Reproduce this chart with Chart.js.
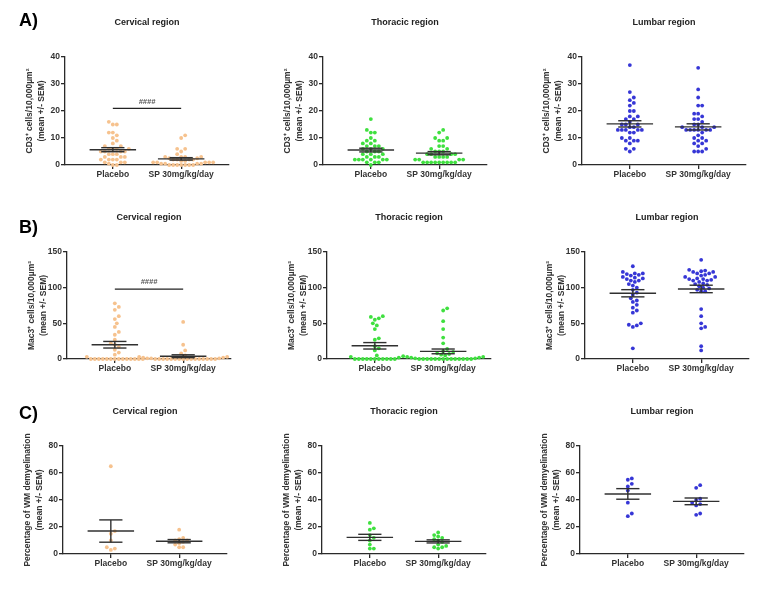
<!DOCTYPE html>
<html><head><meta charset="utf-8">
<script src="https://cdn.jsdelivr.net/npm/chart.js@4.4.1/dist/chart.umd.min.js"></script>
<style>
html,body{margin:0;padding:0;background:#fff}
body{width:777px;height:589px;position:relative;overflow:hidden}
canvas{position:absolute}
</style></head><body>
<script>
// ---------- categories / labels ----------
const groups = ['Placebo', 'SP 30mg/kg/day'];
const regions = ['Cervical region', 'Thoracic region', 'Lumbar region'];
const panelLetters = ['A)', 'B)', 'C)'];
const yTitles = [
  ['CD3⁺ cells/10,000µm²', '(mean +/- SEM)'],
  ['Mac3⁺ cells/10,000µm²', '(mean +/- SEM)'],
  ['Percentage of WM demyelination', '(mean +/- SEM)']
];
const yMaxima = [40, 150, 80];
const yTickSteps = [10, 50, 20];
const regionColors = ['#f6c28e', '#3fe03f', '#3636d6'];

// ---------- data: CD3+ cells ----------
const cd3CervicalPlacebo = [16, 15, 15, 12, 12, 11, 10, 9, 8, 7, 7, 6, 6, 6, 6, 5, 5, 5, 5, 4, 4, 4, 3, 3, 3, 2, 2, 2, 2, 1, 1, 1, 0.5, 0, 0];
const cd3CervicalSP = [11, 10, 6, 6, 5, 4, 3, 3, 3, 3, 2.5, 2.5, 2, 2, 2, 2, 1.5, 1.5, 1, 1, 1, 1, 1, 0.5, 0.5, 0.5, 0.5, 0, 0, 0, 0, 0, 0, 0];
const cd3ThoracicPlacebo = [17, 13, 12, 12, 10, 9, 9, 8, 8, 7, 7, 7, 6, 6, 6, 5, 5, 5, 4, 4, 4, 3, 3, 3, 2, 2, 2, 2, 2, 2, 1, 1, 1, 0];
const cd3ThoracicSP = [13, 12, 10, 10, 9, 9, 7, 7, 6, 6, 5, 5, 5, 4, 4, 4, 4, 3, 3, 3, 3, 2, 2, 2, 2, 1, 1, 1, 1, 1, 1, 1, 1, 1];
const cd3LumbarPlacebo = [37, 27, 25, 24, 23, 22, 20, 20, 18, 18, 17, 17, 16, 15, 15, 15, 14, 14, 13, 13, 13, 13, 13, 12, 12, 10, 10, 9, 9, 9, 8, 6, 6, 5];
const cd3LumbarSP = [36, 28, 25, 22, 22, 19, 19, 18, 17, 17, 16, 15, 15, 14, 14, 14, 13, 13, 13, 13, 13, 13, 12, 11, 10, 10, 9, 9, 8, 8, 7, 6, 5, 5, 5];

// ---------- data: Mac3+ cells ----------
const mac3CervicalPlacebo = [78, 73, 69, 60, 56, 50, 45, 38, 34, 27, 22, 20, 17, 13, 9, 6, 3, 0, 0, 0, 0, 0, 0, 0, 0, 0, 0, 0, 0, 0, 0];
const mac3CervicalSP = [52, 20, 12, 8, 5, 3, 3, 2, 2, 1, 1, 1, 0, 0, 0, 0, 0, 0, 0, 0, 0, 0, 0, 0, 0, 0, 0, 0];
const mac3ThoracicPlacebo = [60, 59, 57, 55, 50, 47, 42, 29, 27, 18, 15, 12, 5, 3, 2, 0, 0, 0, 0, 0, 0, 0, 0, 0, 0, 0];
const mac3ThoracicSP = [71, 68, 53, 42, 30, 22, 14, 11, 10, 8, 7, 6, 5, 4, 3, 3, 2, 2, 1, 1, 0, 0, 0, 0, 0, 0, 0, 0, 0, 0, 0, 0, 0, 0];
const mac3LumbarPlacebo = [130, 122, 120, 120, 119, 118, 117, 115, 114, 113, 112, 110, 110, 108, 105, 103, 100, 97, 93, 90, 85, 82, 80, 76, 72, 68, 65, 50, 48, 47, 45, 15];
const mac3LumbarSP = [139, 125, 124, 123, 122, 122, 120, 120, 118, 117, 115, 115, 113, 112, 112, 111, 110, 110, 108, 106, 105, 104, 102, 100, 99, 97, 95, 95, 70, 60, 50, 45, 43, 18, 12];

// ---------- data: % WM demyelination ----------
const demyelCervicalPlacebo = [65, 17, 15, 10, 5, 4, 3];
const demyelCervicalSP = [18, 12, 11, 10, 10, 9, 8, 7, 5, 5];
const demyelThoracicPlacebo = [23, 19, 18, 14, 12, 10, 7, 4, 4];
const demyelThoracicSP = [16, 14, 13, 12, 11, 10, 9, 7, 6, 5, 5, 4];
const demyelLumbarPlacebo = [56, 55, 52, 50, 47, 38, 30, 28];
const demyelLumbarSP = [51, 49, 41, 40, 38, 37, 36, 30, 29];

// ---------- significance annotations ----------
const sigRowIdx = [0, 1];
const sigColIdx = [0, 0];
const sigLevels = [21, 98];
const sigLabels = ['####', '####'];

const panelData = [
  [[cd3CervicalPlacebo, cd3CervicalSP], [cd3ThoracicPlacebo, cd3ThoracicSP], [cd3LumbarPlacebo, cd3LumbarSP]],
  [[mac3CervicalPlacebo, mac3CervicalSP], [mac3ThoracicPlacebo, mac3ThoracicSP], [mac3LumbarPlacebo, mac3LumbarSP]],
  [[demyelCervicalPlacebo, demyelCervicalSP], [demyelThoracicPlacebo, demyelThoracicSP], [demyelLumbarPlacebo, demyelLumbarSP]]
];

// ---------- layout ----------
const FONT = '"Liberation Sans", Arial, Helvetica, sans-serif';
const Y_AXIS_W = 52, PLOT_W = 164, PAD_TOP = 45, X_AXIS_H = 25, PAD_BOTTOM = 2, CANVAS_W = 230;
const X_MIN = 0.3, X_MAX = 2.7;
const AXIS_X = [[65, 323, 582], [67, 327, 585], [63, 322, 580]];
const CHART_TOP = [57, 252, 446];
const PLOT_H = [108, 107, 108];
const LETTER_X = 19, LETTER_Y = [21, 228.5, 414];
const DOT_R = 1.9, DOT_SPACING = 4.0;
const MEAN_HALF = 0.34, SEM_HALF = 0.17;
const AXIS_COLOR = '#2a2a2a', TEXT_COLOR = '#333';

function mean(a) { return a.reduce((s, v) => s + v, 0) / a.length; }
function sem(a) {
  const m = mean(a);
  const v = a.reduce((s, x) => s + (x - m) * (x - m), 0) / (a.length - 1);
  return Math.sqrt(v / a.length);
}
// beeswarm offsets (pixels) computed from the values only
function beeswarm(values, pxPerY, spacing) {
  const order = values.map((v, i) => i).sort((a, b) => values[a] - values[b]);
  const placed = [];
  const off = new Array(values.length).fill(0);
  const step = spacing / 2;
  for (const i of order) {
    const py = values[i] * pxPerY;
    for (let k = 0; k < 400; k++) {
      const cand = k === 0 ? 0 : (k % 2 ? 1 : -1) * Math.ceil(k / 2) * step;
      let ok = true;
      for (const p of placed) {
        const dx = p[0] - cand, dy = p[1] - py;
        if (dx * dx + dy * dy < spacing * spacing - 0.01) { ok = false; break; }
      }
      if (ok) { off[i] = cand; placed.push([cand, py]); break; }
    }
  }
  return off;
}

const decor = {
  id: 'panelDecor',
  afterDatasetsDraw(chart, args, o) {
    const { ctx, scales: { x, y } } = chart;
    ctx.save();
    ctx.strokeStyle = '#303030';
    ctx.lineWidth = 1.4;
    o.series.forEach((arr, g) => {
      const m = mean(arr), s = sem(arr), c = g + 1;
      const seg = (x1, y1, x2, y2) => { ctx.beginPath(); ctx.moveTo(x1, y1); ctx.lineTo(x2, y2); ctx.stroke(); };
      const ym = y.getPixelForValue(m), yl = y.getPixelForValue(m - s), yh = y.getPixelForValue(m + s);
      seg(x.getPixelForValue(c - MEAN_HALF), ym, x.getPixelForValue(c + MEAN_HALF), ym);
      seg(x.getPixelForValue(c - SEM_HALF), yh, x.getPixelForValue(c + SEM_HALF), yh);
      seg(x.getPixelForValue(c - SEM_HALF), yl, x.getPixelForValue(c + SEM_HALF), yl);
      seg(x.getPixelForValue(c), yl, x.getPixelForValue(c), yh);
    });
    if (o.sig) {
      const yy = y.getPixelForValue(o.sig.level);
      ctx.lineWidth = 1.2;
      ctx.strokeStyle = '#222';
      ctx.beginPath(); ctx.moveTo(x.getPixelForValue(1), yy); ctx.lineTo(x.getPixelForValue(2), yy); ctx.stroke();
      ctx.fillStyle = '#555';
      ctx.font = 'italic bold 7.5px ' + FONT;
      ctx.textAlign = 'center'; ctx.textBaseline = 'bottom';
      ctx.fillText(o.sig.text, x.getPixelForValue(1.5), yy - 3);
    }
    ctx.restore();
  },
  afterDraw(chart, args, o) {
    const { ctx, chartArea: a } = chart;
    ctx.save();
    ctx.fillStyle = '#222';
    ctx.font = 'bold 9px ' + FONT;
    ctx.textAlign = 'center'; ctx.textBaseline = 'middle';
    ctx.fillText(o.title, (a.left + a.right) / 2, a.top - 34.5);
    // rotated y-axis title
    ctx.fillStyle = TEXT_COLOR;
    ctx.font = 'bold 8.5px ' + FONT;
    ctx.save();
    ctx.translate(a.left - 35, (a.top + a.bottom) / 2);
    ctx.rotate(-Math.PI / 2);
    ctx.fillText(o.yTitle[0], 0, 0);
    ctx.fillText(o.yTitle[1], 0, 12);
    ctx.restore();
    if (o.letter) {
      ctx.fillStyle = '#000';
      ctx.font = 'bold 18px ' + FONT;
      ctx.textAlign = 'left';
      ctx.fillText(o.letter.text, o.letter.x, o.letter.y);
    }
    ctx.restore();
  }
};

function makePanel(r, c) {
  const left = AXIS_X[r][c] - Y_AXIS_W;
  const top = CHART_TOP[r] - PAD_TOP;
  const h = PAD_TOP + PLOT_H[r] + X_AXIS_H + PAD_BOTTOM;
  const canvas = document.createElement('canvas');
  canvas.width = CANVAS_W; canvas.height = h;
  canvas.style.left = left + 'px'; canvas.style.top = top + 'px';
  canvas.style.width = CANVAS_W + 'px'; canvas.style.height = h + 'px';
  document.body.appendChild(canvas);

  const series = panelData[r][c];
  const pxPerY = PLOT_H[r] / yMaxima[r];
  const pxPerX = PLOT_W / (X_MAX - X_MIN);
  const datasets = series.map((arr, g) => {
    const offs = beeswarm(arr, pxPerY, DOT_SPACING);
    return {
      label: groups[g],
      data: arr.map((v, i) => ({ x: g + 1 + offs[i] / pxPerX, y: v })),
      backgroundColor: regionColors[c],
      borderColor: regionColors[c],
      borderWidth: 0,
      pointRadius: DOT_R,
      pointHoverRadius: DOT_R,
      clip: false
    };
  });

  let sig = null;
  for (let k = 0; k < sigRowIdx.length; k++) {
    if (sigRowIdx[k] === r && sigColIdx[k] === c) sig = { level: sigLevels[k], text: sigLabels[k] };
  }

  const tickFont = { family: FONT, size: 8.5, weight: 'bold' };
  const gridOpts = { display: true, drawOnChartArea: false, drawTicks: true, tickLength: 4, color: AXIS_COLOR, lineWidth: 1.3 };
  const borderOpts = { display: true, color: AXIS_COLOR, width: 1.3 };

  new Chart(canvas, {
    type: 'scatter',
    data: { datasets },
    plugins: [decor],
    options: {
      responsive: false,
      animation: false,
      events: [],
      layout: { padding: { top: PAD_TOP, left: 0, right: CANVAS_W - Y_AXIS_W - PLOT_W, bottom: PAD_BOTTOM } },
      plugins: {
        legend: { display: false },
        tooltip: { enabled: false },
        title: { display: false },
        panelDecor: {
          series,
          sig,
          title: regions[c],
          yTitle: yTitles[r],
          letter: c === 0 ? { text: panelLetters[r], x: LETTER_X - left, y: LETTER_Y[r] - top } : null
        }
      },
      scales: {
        x: {
          type: 'linear', min: X_MIN, max: X_MAX,
          afterBuildTicks: s => { s.ticks = [{ value: 1 }, { value: 2 }]; },
          afterFit: s => { s.height = X_AXIS_H; },
          ticks: { callback: v => groups[Math.round(v) - 1], font: tickFont, color: TEXT_COLOR, padding: 1, maxRotation: 0, autoSkip: false },
          grid: gridOpts, border: borderOpts
        },
        y: {
          type: 'linear', min: 0, max: yMaxima[r],
          afterFit: s => { s.width = Y_AXIS_W; },
          ticks: { stepSize: yTickSteps[r], font: tickFont, color: TEXT_COLOR, padding: 1 },
          grid: gridOpts, border: borderOpts
        }
      }
    }
  });
}

for (let r = 0; r < 3; r++) for (let c = 0; c < 3; c++) makePanel(r, c);
</script>
</body></html>
